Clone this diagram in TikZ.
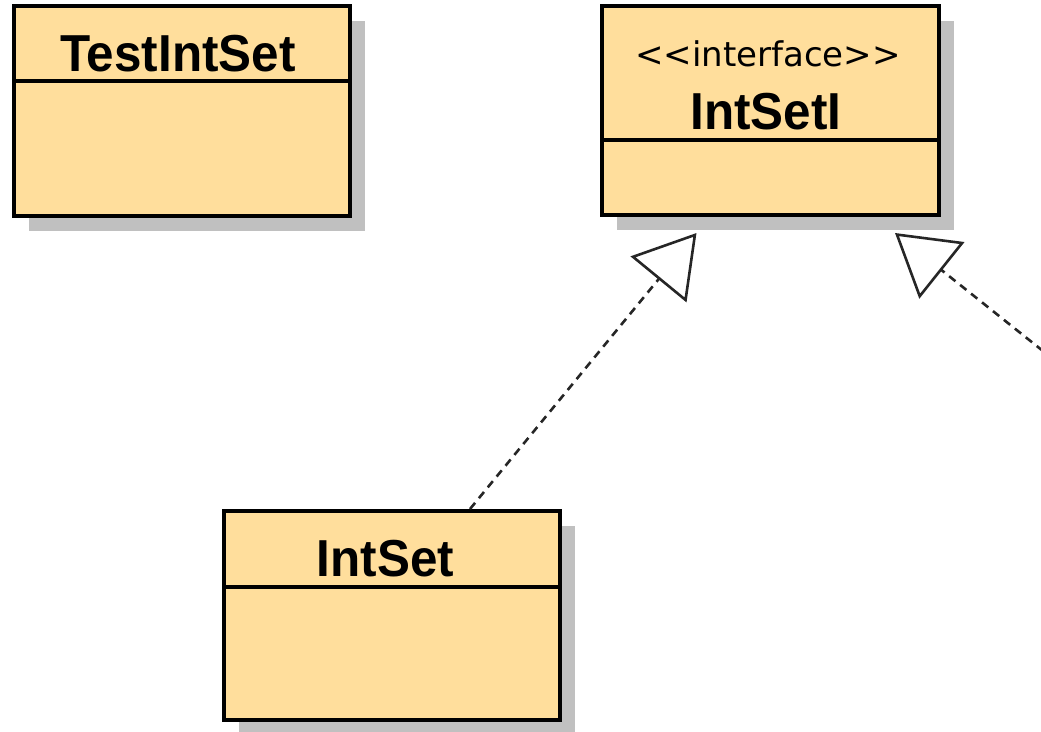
\documentclass[tikz,border=0pt]{standalone}
\usepackage{fontspec}
\setmainfont{Liberation Sans}
\newfontfamily\classfont{Liberation Sans}[FakeStretch=0.95]
\newfontfamily\stereofont{DejaVu Sans}
\usetikzlibrary{arrows.meta,shadows}

\definecolor{classfill}{RGB}{255,222,156}
\definecolor{shadowgray}{RGB}{192,192,192}

\tikzset{
  classbox/.style={draw=black, line width=4pt, fill=classfill, rectangle,
    outer sep=0pt, inner sep=0pt,
    drop shadow={shadow xshift=15pt, shadow yshift=-15pt, fill=shadowgray, opacity=1}},
  divider/.style={draw=black, line width=4pt},
  classname/.style={font=\classfont\bfseries\fontsize{52}{60}\selectfont,
    inner sep=0pt, anchor=base},
  stereo/.style={font=\stereofont\fontsize{34}{40}\selectfont,
    inner sep=0pt, anchor=base},
  realize/.style={draw=black!85, line width=2.6pt, dash pattern=on 8pt off 6pt,
    -{Triangle[open, length=60pt, width=72pt]}}
}

\begin{document}
\begin{tikzpicture}[x=1pt, y=-1pt]
  \useasboundingbox (0,0) rectangle (1041,731);

  % class boxes
  \node[classbox, minimum width=336pt, minimum height=210pt] (tis) at (182,111) {};
  \node[classbox, minimum width=337pt, minimum height=209pt] (isi) at (770.5,110.5) {};
  \node[classbox, minimum width=336pt, minimum height=209pt] (is) at (392,615.5) {};

  % compartment dividers
  \draw[divider] ([yshift=-75pt]tis.north west) -- ([yshift=-75pt]tis.north east);
  \draw[divider] ([yshift=-133.5pt]isi.north west) -- ([yshift=-133.5pt]isi.north east);
  \draw[divider] ([yshift=-75.5pt]is.north west) -- ([yshift=-75.5pt]is.north east);

  % names
  \node[classname] (tis-name) at ([xshift=-4pt, yshift=-65pt]tis.north) {TestIntSet};
  \node[stereo] (isi-stereo) at ([xshift=-2.5pt, yshift=-60.5pt]isi.north) {<<interface>>};
  \node[classname] (isi-name) at ([xshift=-4.5pt, yshift=-123pt]isi.north) {IntSetI};
  \node[classname] (is-name) at ([xshift=-6.5pt, yshift=-65pt]is.north) {IntSet};

  % realizations
  \coordinate (offpage) at (1043,351);
  \draw[realize] ([xshift=78pt, yshift=2pt]is.north) -- ([xshift=-74pt, yshift=-18pt]isi.south);
  \draw[realize] (offpage) -- ([xshift=124.5pt, yshift=-18pt]isi.south);
\end{tikzpicture}
\end{document}
